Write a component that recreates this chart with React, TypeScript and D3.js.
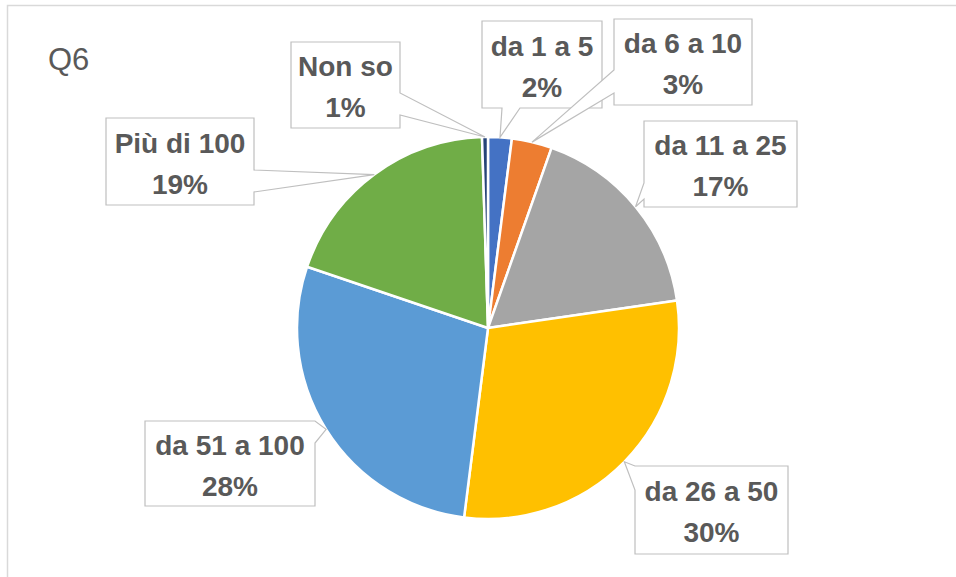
import * as d3 from "d3";
import { useEffect, useRef } from "react";

const categories = [
  "da 1 a 5",
  "da 6 a 10",
  "da 11 a 25",
  "da 26 a 50",
  "da 51 a 100",
  "Più di 100",
  "Non so",
];
const values = [2.0, 3.4, 17.3, 29.3, 28.2, 19.3, 0.5];
const percentLabels = ["2%", "3%", "17%", "30%", "28%", "19%", "1%"];
const colors = ["#4472C4", "#ED7D31", "#A5A5A5", "#FFC000", "#5B9BD5", "#70AD47", "#264478"];

// callout boxes: position, side of the pointer and where its base sits on that side
const callouts = [
  { x: 482, y: 21, w: 120, h: 87, side: "bottom", b0: 20, b1: 38 },
  { x: 614, y: 19, w: 138, h: 86, side: "left", b0: 51, b1: 74 },
  { x: 644, y: 121, w: 153, h: 86, side: "left", b0: 62, b1: 78 },
  { x: 635, y: 466, w: 153, h: 88, side: "left", b0: 0, b1: 24 },
  { x: 145, y: 421, w: 170, h: 85, side: "right", b0: 0, b1: 22 },
  { x: 106, y: 118, w: 148, h: 87, side: "right", b0: 52, b1: 74 },
  { x: 291, y: 42, w: 109, h: 86, side: "right", b0: 51, b1: 73 },
];

const W = 956;
const H = 577;
const cx = 488;
const cy = 328;
const R = 191;

function calloutPath(c, tip) {
  const { x, y, w, h, side, b0, b1 } = c;
  const pts = [[x, y]];
  if (side === "top") pts.push([x + b0, y], tip, [x + b1, y]);
  pts.push([x + w, y]);
  if (side === "right") pts.push([x + w, y + b0], tip, [x + w, y + b1]);
  pts.push([x + w, y + h]);
  if (side === "bottom") pts.push([x + b1, y + h], tip, [x + b0, y + h]);
  pts.push([x, y + h]);
  if (side === "left") pts.push([x, y + b1], tip, [x, y + b0]);
  return "M" + pts.map((p) => p.join(",")).join("L") + "Z";
}

export default function App() {
  const ref = useRef(null);

  useEffect(() => {
    const svg = d3.select(ref.current);
    svg.selectAll("*").remove();

    svg
      .append("rect")
      .attr("x", 7.5)
      .attr("y", 5.5)
      .attr("width", W + 20)
      .attr("height", H + 20)
      .attr("fill", "#fff")
      .attr("stroke", "#D9D9D9")
      .attr("stroke-width", 1.5);

    svg
      .append("text")
      .attr("x", 48)
      .attr("y", 70)
      .attr("font-family", "'Liberation Sans', Arial, sans-serif")
      .attr("font-size", 31)
      .attr("fill", "#595959")
      .text("Q6");

    const pie = d3
      .pie<number>()
      .sort(null)
      .value((d) => d);
    const arcs = pie(values);

    const arc = d3.arc().innerRadius(0).outerRadius(R);

    const g = svg.append("g").attr("transform", `translate(${cx},${cy})`);
    g.selectAll("path")
      .data(arcs)
      .enter()
      .append("path")
      .attr("d", arc as any)
      .attr("fill", (d, i) => colors[i])
      .attr("stroke", "#fff")
      .attr("stroke-width", 2.5)
      .attr("stroke-linejoin", "round");

    const labels = svg.append("g");
    arcs.forEach((a, i) => {
      const mid = (a.startAngle + a.endAngle) / 2;
      const tip = [cx + R * Math.sin(mid), cy - R * Math.cos(mid)];
      const c = callouts[i];
      labels
        .append("path")
        .attr("d", calloutPath(c, tip))
        .attr("fill", "#fff")
        .attr("stroke", "#BFBFBF")
        .attr("stroke-width", 1.2);
      const t = labels
        .append("text")
        .attr("text-anchor", "middle")
        .attr("font-family", "'Liberation Sans', Arial, sans-serif")
        .attr("font-weight", "bold")
        .attr("font-size", 28)
        .attr("fill", "#595959");
      t.append("tspan")
        .attr("x", c.x + c.w / 2)
        .attr("y", c.y + c.h / 2 - 9)
        .text(categories[i]);
      t.append("tspan")
        .attr("x", c.x + c.w / 2)
        .attr("y", c.y + c.h / 2 + 32)
        .text(percentLabels[i]);
    });
  }, []);

  return (
    <svg
      ref={ref}
      width={W}
      height={H}
      style={{ position: "absolute", left: 0, top: 0, display: "block" }}
    ></svg>
  );
}
